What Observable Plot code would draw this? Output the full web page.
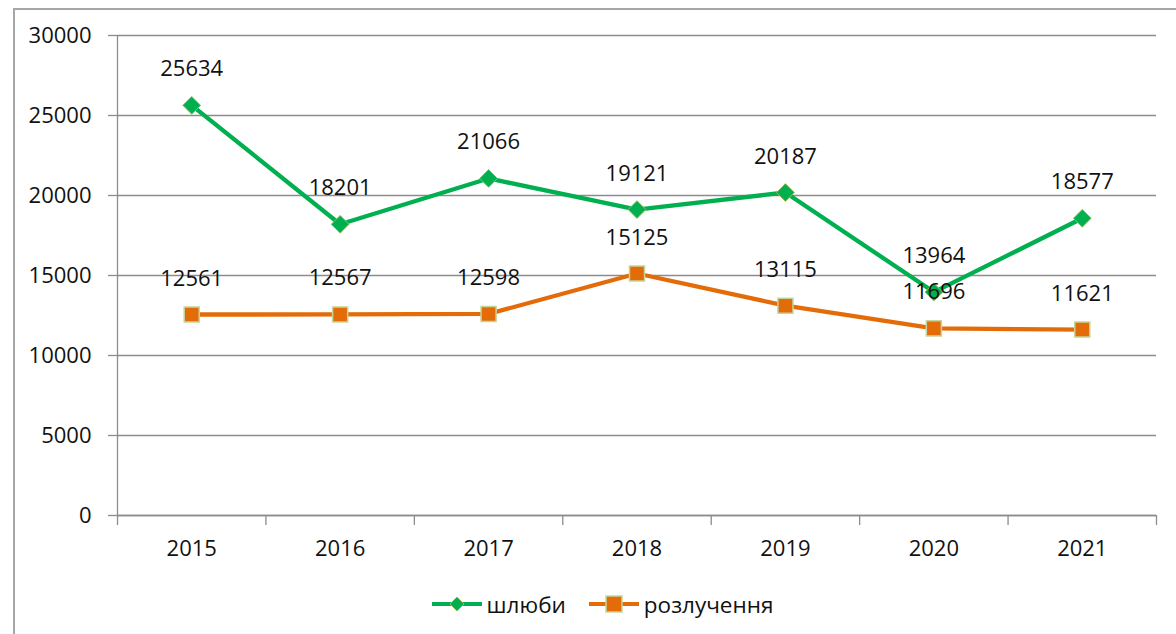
<!DOCTYPE html>
<html>
<head>
<meta charset="utf-8">
<script src="https://cdn.jsdelivr.net/npm/d3@7"></script>
<script src="https://cdn.jsdelivr.net/npm/@observablehq/plot@0.6"></script>
<style>
  html, body { margin: 0; padding: 0; background: #fff; width: 1176px; height: 634px; overflow: hidden; }
  #frame { position: absolute; left: 13px; top: 8px; width: 1200px; height: 700px; border-left: 2px solid #a6a6a6; border-top: 2px solid #a6a6a6; }
  #chart { position: absolute; left: 0; top: 0; }
  #legend { position: absolute; top: 589px; left: 14px; width: 1176px; height: 30px; display: flex; justify-content: center; align-items: center; font-family: "Open Sans", sans-serif; font-size: 22.5px; color: #111; }
  #legend .item { display: flex; align-items: center; margin: 0 11px; }
  #legend svg { margin-right: 4px; }
</style>
</head>
<body>
<div id="frame"></div>
<div id="chart"></div>
<div id="legend"></div>
<script>
const years = [2015, 2016, 2017, 2018, 2019, 2020, 2021];
const marriages = [25634, 18201, 21066, 19121, 20187, 13964, 18577];
const divorces = [12561, 12567, 12598, 15125, 13115, 11696, 11621];
const seriesNames = ["шлюби", "розлучення"];
const colors = ["#00b050", "#e36c09"];
const yTicks = [0, 5000, 10000, 15000, 20000, 25000, 30000];
const boundaries = [2014.5, 2015.5, 2016.5, 2017.5, 2018.5, 2019.5, 2020.5, 2021.5];

const m = years.map((y, i) => ({year: y, value: marriages[i]}));
const d = years.map((y, i) => ({year: y, value: divorces[i]}));
const font = "Open Sans, sans-serif";
const fs = 22;

const chart = Plot.plot({
  width: 1176,
  height: 580,
  marginTop: 35,
  marginBottom: 65,
  marginLeft: 117,
  marginRight: 20,
  style: {fontFamily: font, fontSize: fs + "px", color: "#111", background: "transparent"},
  x: {type: "linear", domain: [2014.5, 2021.5], label: null},
  y: {domain: [0, 30000], label: null},
  marks: [
    Plot.gridY(yTicks, {stroke: "#8c8c8c", strokeOpacity: 1, strokeWidth: 1.3}),
    Plot.axisY(yTicks, {tickSize: 9, tickPadding: 17, stroke: "#8c8c8c", strokeWidth: 1.3, fontSize: fs, fill: "#111", tickFormat: v => String(v), label: null}),
    Plot.axisX(boundaries, {tickSize: 10, tickFormat: () => "", stroke: "#8c8c8c", strokeWidth: 1.3, label: null}),
    Plot.axisX(years, {tickSize: 0, tickPadding: 25, tickFormat: v => String(v), fontSize: fs, fill: "#111", label: null}),
    Plot.ruleY([0], {stroke: "#8c8c8c", strokeWidth: 1.3}),
    Plot.ruleX([2014.5], {stroke: "#8c8c8c", strokeWidth: 1.3}),
    Plot.line(m, {x: "year", y: "value", stroke: colors[0], strokeWidth: 4.3}),
    Plot.line(d, {x: "year", y: "value", stroke: colors[1], strokeWidth: 4.3}),
    Plot.dot(m, {x: "year", y: "value", symbol: "diamond2", r: 8, fill: colors[0], stroke: "#9bbb59", strokeWidth: 1}),
    Plot.dot(d, {x: "year", y: "value", symbol: "square", r: 8.5, fill: colors[1], stroke: "#c3d69b", strokeWidth: 1.5}),
    Plot.text(m, {x: "year", y: "value", text: r => String(r.value), dy: -36, fontSize: fs, fill: "#111"}),
    Plot.text(d, {x: "year", y: "value", text: r => String(r.value), dy: -36, fontSize: fs, fill: "#111"})
  ]
});
document.getElementById("chart").appendChild(chart);

// legend
const legend = document.getElementById("legend");
seriesNames.forEach((name, i) => {
  const item = document.createElement("div");
  item.className = "item";
  const sym = i === 0
    ? `<polygon points="26,4 33,11 26,18 19,11" fill="${colors[0]}" stroke="#9bbb59" stroke-width="1"/>`
    : `<rect x="18" y="3" width="16" height="16" fill="${colors[1]}" stroke="#c3d69b" stroke-width="1.5"/>`;
  item.innerHTML = `<svg width="52" height="22"><line x1="1" x2="51" y1="11" y2="11" stroke="${colors[i]}" stroke-width="4"/>${sym}</svg><span>${name}</span>`;
  legend.appendChild(item);
});
</script>
</body>
</html>
